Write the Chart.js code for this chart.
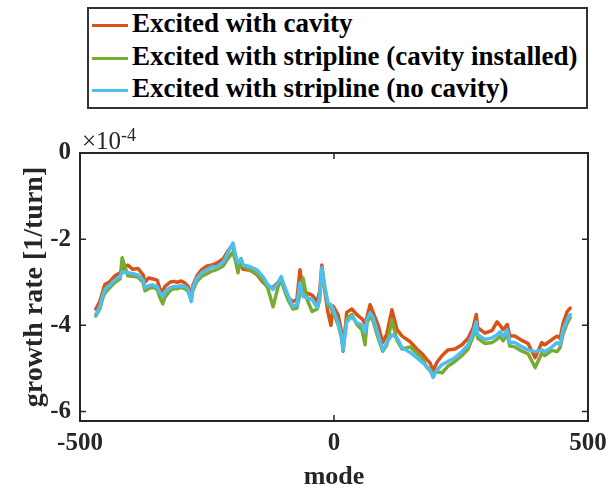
<!DOCTYPE html>
<html>
<head>
<meta charset="utf-8">
<script src="https://cdn.jsdelivr.net/npm/chart.js@4.4.1/dist/chart.umd.min.js"></script>
<style>
  html, body { margin: 0; padding: 0; background: #fff; }
  #wrap { position: relative; width: 615px; height: 491px; }
  #legend {
    position: absolute; left: 87px; top: 7px; width: 497px; height: 98px;
    border: 2px solid #333; background: #fff;
    font: bold 27px "Liberation Serif", "Times New Roman", serif; color: #000;
  }
  .row { position: absolute; left: 3px; height: 30px; line-height: 30px; white-space: nowrap; }
  .row span.ln { display: inline-block; width: 36px; height: 3px; vertical-align: middle; margin-right: 4px; }
  #exp {
    position: absolute; left: 82px; top: 125px;
    font: 25px "Liberation Serif", "Times New Roman", serif; color: #262626;
  }
  #exp sup { font-size: 18px; vertical-align: 8px; }
</style>
</head>
<body>
<div id="wrap">
  <canvas id="chart" width="615" height="491"></canvas>
  <div id="legend"></div>
  <div id="exp">&times;10<sup>-4</sup></div>
</div>
<script>
const seriesNames = [
  'Excited with cavity',
  'Excited with stripline (cavity installed)',
  'Excited with stripline (no cavity)'
];

const modes = [
  -469, -461, -455, -451, -441, -431, -421, -417, -406, -396, -386, -376, -372, -365, -358, -348,
  -343, -337, -333, -323, -316, -309, -301, -293, -287, -281, -278, -270, -260, -250, -240, -230,
  -218, -209, -199, -193, -189, -183, -179, -165, -152, -140, -130, -120, -110, -104, -100, -91,
  -81, -73, -67, -61, -53, -43, -33, -28, -24, -18, -12, -6, -2, 8, 14, 18,
  25, 35, 45, 55, 61, 65, 71, 77, 87, 96, 104, 114, 124, 134, 150, 163,
  175, 183, 189, 195, 203, 213, 224, 238, 252, 264, 274, 280, 283, 297, 311, 321,
  327, 333, 341, 346, 356, 370, 382, 396, 409, 415, 429, 439, 445, 451, 459, 465
];

// growth rate, units of 1e-4 per turn
const cavity = [
  -3.62, -3.45, -3.20, -3.05, -2.98, -2.85, -2.78, -2.70, -2.60, -2.70, -2.68, -2.82, -3.00, -2.90, -2.92, -2.95,
  -3.15, -3.22, -3.10, -3.00, -2.98, -3.00, -2.97, -3.02, -3.10, -3.30, -3.08, -2.85, -2.70, -2.62, -2.60, -2.55,
  -2.45, -2.28, -2.12, -2.48, -2.62, -2.52, -2.70, -2.72, -2.82, -3.00, -3.10, -3.12, -3.00, -2.90, -3.05, -3.35,
  -3.45, -3.40, -2.71, -3.20, -3.25, -3.30, -3.45, -3.20, -2.60, -3.20, -3.70, -4.00, -3.55, -3.75, -4.10, -4.60,
  -3.70, -3.62, -3.75, -3.85, -3.95, -3.80, -3.52, -3.70, -4.00, -4.40, -4.20, -3.64, -4.10, -4.25, -4.38, -4.55,
  -4.68, -4.80, -4.87, -5.05, -4.85, -4.70, -4.57, -4.55, -4.45, -4.30, -4.05, -3.75, -4.05, -4.18, -4.12, -3.92,
  -4.00, -4.10, -3.98, -4.25, -4.25, -4.35, -4.42, -4.75, -4.40, -4.45, -4.33, -4.25, -4.30, -3.95, -3.68, -3.60
];

const striplineCav = [
  -3.78, -3.62, -3.36, -3.25, -3.12, -3.00, -2.92, -2.43, -2.85, -2.86, -2.88, -3.00, -3.20, -3.15, -3.12, -3.16,
  -3.35, -3.50, -3.35, -3.20, -3.15, -3.15, -3.12, -3.15, -3.22, -3.42, -3.20, -2.98, -2.86, -2.80, -2.74, -2.70,
  -2.62, -2.45, -2.30, -2.55, -2.78, -2.45, -2.62, -2.72, -2.80, -2.95, -3.15, -3.57, -3.10, -2.95, -3.10, -3.40,
  -3.62, -3.60, -3.25, -2.90, -3.40, -3.68, -3.62, -3.40, -2.75, -3.15, -3.55, -3.58, -3.70, -3.98, -4.25, -4.50,
  -3.85, -3.75, -3.98, -4.10, -4.45, -3.95, -3.78, -3.90, -4.30, -4.60, -4.45, -3.87, -4.35, -4.55, -4.50, -4.65,
  -4.80, -4.98, -5.05, -5.10, -5.08, -5.10, -4.95, -4.84, -4.70, -4.55, -4.25, -4.05, -4.30, -4.42, -4.40, -4.32,
  -4.25, -4.36, -4.20, -4.48, -4.50, -4.60, -4.66, -4.98, -4.65, -4.70, -4.58, -4.61, -4.52, -4.20, -3.95, -3.82
];

const striplineNoCav = [
  -3.75, -3.57, -3.29, -3.17, -3.06, -2.94, -2.87, -2.76, -2.78, -2.80, -2.83, -2.94, -3.13, -3.08, -3.06, -3.10,
  -3.24, -3.33, -3.22, -3.13, -3.10, -3.10, -3.08, -3.10, -3.17, -3.45, -3.13, -2.90, -2.78, -2.71, -2.64, -2.64,
  -2.53, -2.32, -2.09, -2.41, -2.55, -2.46, -2.60, -2.64, -2.71, -2.87, -3.06, -3.17, -3.01, -2.87, -3.01, -3.29,
  -3.57, -3.52, -3.01, -3.33, -3.36, -3.40, -3.59, -3.33, -2.66, -3.10, -3.48, -3.52, -3.62, -3.94, -4.20, -4.57,
  -3.92, -3.80, -3.94, -3.99, -4.17, -3.87, -3.71, -3.82, -4.22, -4.57, -4.40, -4.22, -4.29, -4.52, -4.63, -4.75,
  -4.87, -4.96, -5.03, -5.21, -5.03, -4.91, -4.84, -4.75, -4.61, -4.45, -4.17, -3.92, -4.22, -4.33, -4.29, -4.22,
  -4.15, -4.26, -4.10, -4.40, -4.40, -4.50, -4.57, -4.61, -4.57, -4.61, -4.50, -4.40, -4.45, -4.10, -3.87, -3.75
];

const xTicks = [-500, 0, 500];
const yTicks = [-6, -4, -2, 0];
const colors = ['#D95319', '#77AC30', '#4DBEEE'];

function pts(vals) {
  return modes.map((m, i) => ({ x: m, y: vals[i] }));
}

// legend as html
const legend = document.getElementById('legend');
const rowTops = [-1, 32, 64];
seriesNames.forEach((name, i) => {
  const row = document.createElement('div');
  row.className = 'row';
  row.style.top = rowTops[i] + 'px';
  row.innerHTML = `<span class="ln" style="background:${colors[i]}"></span>${name}`;
  legend.appendChild(row);
});

const axisColor = '#262626';
const serif = '"Liberation Serif", "Times New Roman", serif';
const tickFont = { family: serif, size: 25, weight: 'bold' };

// MATLAB style box with inward ticks
const boxPlugin = {
  id: 'box',
  afterDatasetsDraw(chart) {
    const { ctx, chartArea: a, scales } = chart;
    ctx.save();
    ctx.strokeStyle = axisColor;
    ctx.lineWidth = 2;
    ctx.strokeRect(a.left, a.top, a.right - a.left, a.bottom - a.top);
    ctx.lineWidth = 1.5;
    const len = 6;
    ctx.beginPath();
    xTicks.forEach(v => {
      const x = scales.x.getPixelForValue(v);
      ctx.moveTo(x, a.bottom); ctx.lineTo(x, a.bottom - len);
      ctx.moveTo(x, a.top); ctx.lineTo(x, a.top + len);
    });
    yTicks.forEach(v => {
      const y = scales.y.getPixelForValue(v);
      ctx.moveTo(a.left, y); ctx.lineTo(a.left + len, y);
      ctx.moveTo(a.right, y); ctx.lineTo(a.right - len, y);
    });
    ctx.stroke();
    ctx.restore();
  }
};

new Chart(document.getElementById('chart'), {
  type: 'line',
  data: {
    datasets: [
      { label: seriesNames[0], data: pts(cavity), borderColor: colors[0], order: 3 },
      { label: seriesNames[1], data: pts(striplineCav), borderColor: colors[1], order: 2 },
      { label: seriesNames[2], data: pts(striplineNoCav), borderColor: colors[2], order: 1 }
    ]
  },
  options: {
    responsive: false,
    animation: false,
    layout: { padding: { left: 0, right: 27, top: 153, bottom: 0 } },
    elements: {
      point: { radius: 0 },
      line: { borderWidth: 3.5, tension: 0, borderJoinStyle: 'round', borderCapStyle: 'round' }
    },
    plugins: { legend: { display: false }, tooltip: { enabled: false } },
    scales: {
      x: {
        type: 'linear', min: -500, max: 500,
        afterBuildTicks: s => { s.ticks = xTicks.map(v => ({ value: v })); },
        afterFit: s => { s.height = 70; },
        grid: { display: false, drawTicks: false },
        border: { display: false },
        ticks: { color: axisColor, font: tickFont, padding: 8, maxRotation: 0 },
        title: { display: true, text: 'mode', color: axisColor, font: { family: serif, size: 26, weight: 'bold' }, padding: { top: 0, bottom: -2 } }
      },
      y: {
        type: 'linear', min: -6.22, max: 0,
        afterBuildTicks: s => { s.ticks = yTicks.map(v => ({ value: v })); },
        afterFit: s => { s.width = 80; },
        grid: { display: false, drawTicks: false },
        border: { display: false },
        ticks: { color: axisColor, font: tickFont, padding: 9 },
        title: { display: true, text: 'growth rate [1/turn]', color: axisColor, font: { family: serif, size: 28, weight: 'bold' }, padding: { top: 18, bottom: 0 } }
      }
    }
  },
  plugins: [boxPlugin]
});
</script>
</body>
</html>
